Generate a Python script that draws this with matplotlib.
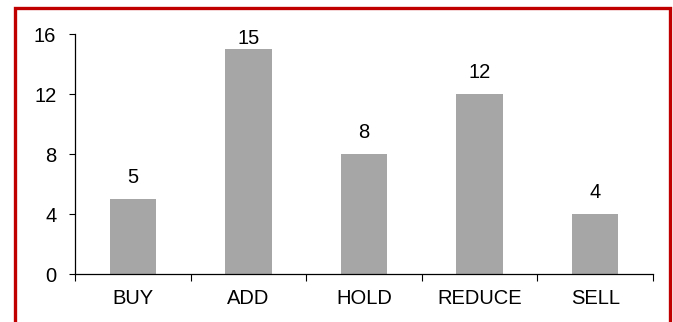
import matplotlib
matplotlib.use("Agg")
import matplotlib.pyplot as plt
from matplotlib.patches import Rectangle

categories = ["BUY", "ADD", "HOLD", "REDUCE", "SELL"]
counts = [5, 15, 8, 12, 4]
y_ticks = [0, 4, 8, 12, 16]

plt.rcParams["font.family"] = ["Liberation Sans", "DejaVu Sans"]
FS = 14.5

W, H = 673, 322
fig = plt.figure(figsize=(W / 100, H / 100), dpi=100)
ax = fig.add_axes([75 / W, 1 - 274 / H, (653 - 75) / W, (274 - 34) / H])

x = list(range(len(categories)))
bars = ax.bar(x, counts, width=0.4, color="#a6a6a6", edgecolor="none")

ax.set_xlim(-0.5, len(categories) - 0.5)
ax.set_ylim(0, 16)

# value labels sit above each bar, but are kept below the top of the chart area
gap_px = 16
min_baseline_px = 278  # lowest allowed baseline height above the figure bottom
for b, v in zip(bars, counts):
    top_px = ax.transData.transform((0, v))[1]
    baseline = max(top_px + gap_px, 0)
    baseline = min(baseline, min_baseline_px)
    offset_pt = (baseline - top_px) * 72 / fig.dpi
    ax.annotate(str(v), (b.get_x() + b.get_width() / 2, v),
                xytext=(0, offset_pt), textcoords="offset points",
                ha="center", va="baseline", fontsize=FS, color="black")

ax.set_yticks(y_ticks)
ax.tick_params(axis="y", direction="out", length=4.5, width=0.8, labelsize=FS, pad=9)

# categories labelled at centres, tick marks at the boundaries
ax.set_xticks(x)
ax.set_xticklabels(categories, fontsize=FS)
ax.tick_params(axis="x", which="major", length=0, pad=11)
ax.set_xticks([i - 0.5 for i in range(len(categories) + 1)], minor=True)
ax.tick_params(axis="x", which="minor", direction="out", length=5, width=0.8)

for side in ("top", "right"):
    ax.spines[side].set_visible(False)
for side in ("left", "bottom"):
    ax.spines[side].set_linewidth(0.9)
    ax.spines[side].set_color("black")

# red frame around the chart, open at the bottom edge
frame = Rectangle((14.5 / W, -0.05), (669.5 - 14.5) / W, 1.05 - 7.5 / H,
                  transform=fig.transFigure, fill=False,
                  edgecolor="#c00000", linewidth=2.4, clip_on=False)
fig.patches.append(frame)

fig.savefig("out.png", dpi=100)
